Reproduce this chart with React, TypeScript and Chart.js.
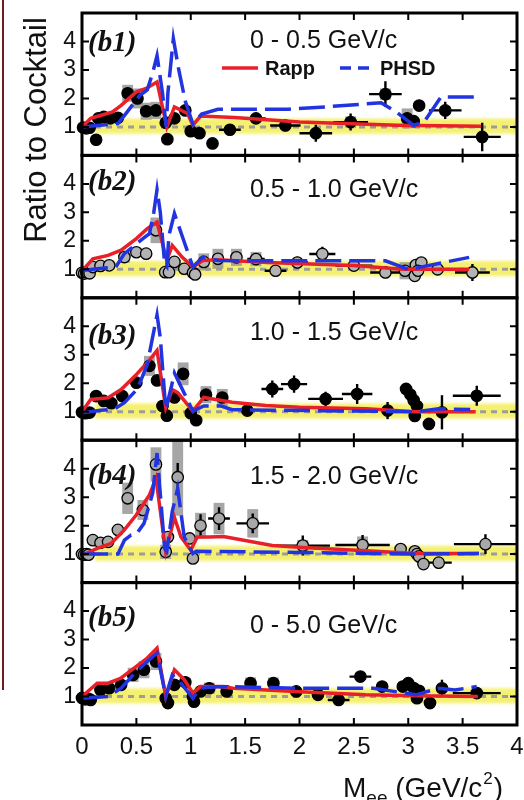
import React, { useEffect, useRef } from 'react';
import { Chart, registerables } from 'chart.js';

Chart.register(...registerables);

// ---------- data ----------
const xTicks = [0, 0.5, 1, 1.5, 2, 2.5, 3, 3.5, 4];
const yTicks = [1, 2, 3, 4];
const panelIds = ['(b1)', '(b2)', '(b3)', '(b4)', '(b5)'];
const panelTitles = ['0 - 0.5 GeV/c', '0.5 - 1.0 GeV/c', '1.0 - 1.5 GeV/c', '1.5 - 2.0 GeV/c', '0 - 5.0 GeV/c'];
const legendLabels = ['Rapp', 'PHSD'];
const bandRange = [0.76, 1.29];
const bandStart = 0.12;

// points: [mass, ratio, xErr, yErr, sysErr]
const b1Points = [
  [0.01, 0.98, 0, 0, 0], [0.04, 0.95, 0, 0, 0], [0.07, 0.97, 0, 0, 0], [0.13, 0.55, 0, 0.1, 0],
  [0.15, 1.3, 0, 0, 0], [0.2, 1.35, 0, 0, 0], [0.26, 1.3, 0, 0, 0], [0.33, 1.32, 0, 0, 0],
  [0.42, 2.18, 0, 0.15, 0.3], [0.51, 2.0, 0, 0.15, 0.35], [0.59, 1.55, 0, 0.2, 0.3], [0.68, 1.58, 0, 0.2, 0.3],
  [0.77, 1.15, 0, 0.15, 0], [0.785, 0.57, 0, 0.15, 0], [0.85, 1.3, 0, 0.1, 0], [0.95, 1.58, 0, 0.15, 0.15],
  [1.0, 0.85, 0, 0.1, 0.1], [1.08, 0.78, 0, 0.1, 0], [1.2, 0.42, 0, 0.15, 0], [1.36, 0.9, 0.1, 0.12, 0],
  [1.6, 1.3, 0.09, 0.15, 0], [1.87, 1.05, 0.14, 0.2, 0], [2.15, 0.78, 0.15, 0.3, 0], [2.47, 1.17, 0.16, 0.3, 0.2],
  [2.79, 2.15, 0.15, 0.45, 0.2], [2.99, 1.3, 0, 0.2, 0.35], [3.05, 1.2, 0, 0.15, 0], [3.1, 1.75, 0, 0.15, 0],
  [3.34, 1.58, 0.15, 0.3, 0.15], [3.68, 0.65, 0.17, 0.5, 0],
];
const b2Points = [
  [0.0, 0.88, 0, 0, 0], [0.02, 0.85, 0, 0, 0], [0.04, 0.9, 0, 0, 0], [0.07, 0.86, 0, 0, 0],
  [0.1, 1.08, 0, 0, 0], [0.17, 1.12, 0, 0, 0], [0.25, 1.14, 0, 0, 0], [0.39, 1.43, 0, 0, 0.2],
  [0.5, 1.6, 0, 0, 0.15], [0.59, 1.55, 0, 0, 0], [0.68, 2.37, 0, 0.1, 0.45], [0.765, 0.9, 0, 0, 0],
  [0.8, 0.9, 0, 0, 0], [0.85, 1.26, 0, 0, 0], [0.94, 1.02, 0, 0, 0], [1.02, 0.88, 0, 0, 0],
  [1.04, 0.82, 0, 0, 0], [1.12, 1.26, 0, 0, 0.3], [1.25, 1.37, 0, 0, 0.35], [1.42, 1.42, 0, 0, 0.3],
  [1.6, 1.36, 0.08, 0.1, 0.25], [1.78, 0.95, 0.1, 0.2, 0], [1.98, 1.24, 0.1, 0.2, 0], [2.21, 1.54, 0.12, 0.25, 0],
  [2.5, 1.13, 0.17, 0.2, 0], [2.79, 0.89, 0.14, 0.2, 0], [2.97, 0.95, 0, 0, 0.3], [3.06, 0.77, 0, 0, 0],
  [3.07, 1.15, 0, 0, 0], [3.12, 1.24, 0, 0, 0], [3.09, 0.95, 0, 0, 0], [3.27, 1.0, 0, 0, 0],
  [3.59, 0.89, 0.16, 0.3, 0],
];
const b3Points = [
  [0.0, 0.98, 0, 0, 0], [0.03, 0.95, 0, 0, 0], [0.07, 0.97, 0, 0, 0], [0.13, 1.55, 0, 0, 0],
  [0.2, 1.38, 0, 0, 0], [0.27, 1.3, 0, 0, 0], [0.37, 1.55, 0, 0, 0], [0.5, 2.02, 0, 0, 0],
  [0.62, 2.61, 0, 0.1, 0.35], [0.69, 2.1, 0, 0.1, 0], [0.74, 1.2, 0, 0, 0], [0.78, 0.86, 0, 0, 0],
  [0.85, 1.5, 0, 0, 0], [0.93, 2.33, 0, 0.15, 0.4], [1.0, 0.95, 0, 0, 0], [1.05, 0.7, 0, 0, 0],
  [1.14, 1.6, 0, 0, 0.3], [1.29, 1.5, 0, 0, 0.3], [1.52, 1.04, 0, 0.15, 0], [1.75, 1.8, 0.1, 0.3, 0],
  [1.95, 1.97, 0.12, 0.3, 0], [2.24, 1.45, 0.16, 0.25, 0], [2.53, 1.62, 0.14, 0.35, 0], [2.81, 1.04, 0, 0.3, 0],
  [2.98, 1.8, 0, 0, 0], [3.02, 1.6, 0, 0, 0], [3.05, 1.4, 0, 0, 0], [3.08, 1.2, 0, 0, 0],
  [3.06, 0.85, 0, 0, 0], [3.19, 0.57, 0, 0, 0], [3.31, 0.98, 0, 0.6, 0], [3.63, 1.56, 0.22, 0.35, 0],
];
const b4Points = [
  [0.0, 1.0, 0, 0, 0], [0.02, 0.98, 0, 0, 0], [0.04, 1.0, 0, 0, 0], [0.06, 0.98, 0, 0, 0],
  [0.1, 1.49, 0, 0, 0], [0.17, 1.4, 0, 0, 0], [0.24, 1.43, 0, 0, 0], [0.33, 1.85, 0, 0, 0],
  [0.42, 2.96, 0, 0.2, 0.55], [0.56, 2.55, 0, 0.2, 0.35], [0.68, 4.15, 0, 0.2, 0.6], [0.77, 1.08, 0, 0, 0.25],
  [0.79, 1.6, 0, 0.2, 0], [0.88, 3.7, 0, 0.5, 1.35], [0.99, 1.55, 0, 0.15, 0], [1.02, 0.85, 0, 0, 0],
  [1.09, 2.0, 0, 0.4, 0.45], [1.26, 2.25, 0.1, 0.4, 0.55], [1.57, 2.08, 0.15, 0.35, 0.5], [2.03, 1.3, 0.25, 0.35, 0.2],
  [2.58, 1.32, 0.25, 0.35, 0.3], [2.93, 1.18, 0, 0.2, 0], [3.06, 1.1, 0, 0, 0], [3.08, 1.0, 0, 0, 0],
  [3.1, 0.92, 0, 0, 0], [3.14, 0.65, 0, 0, 0], [3.28, 0.7, 0.12, 0.2, 0], [3.71, 1.35, 0.29, 0.35, 0],
];
const b5Points = [
  [0.0, 0.95, 0, 0, 0], [0.03, 0.9, 0, 0, 0], [0.06, 0.92, 0, 0, 0], [0.08, 0.88, 0, 0, 0],
  [0.17, 1.23, 0, 0, 0], [0.25, 1.29, 0, 0, 0], [0.36, 1.41, 0, 0, 0], [0.47, 1.76, 0, 0, 0.25],
  [0.57, 1.94, 0, 0, 0.3], [0.68, 2.23, 0, 0.1, 0.3], [0.77, 0.94, 0, 0, 0], [0.79, 0.77, 0, 0, 0],
  [0.85, 1.41, 0, 0, 0], [0.95, 1.5, 0, 0, 0.15], [1.02, 1.0, 0, 0, 0], [1.03, 0.82, 0, 0, 0],
  [1.09, 1.18, 0, 0, 0], [1.17, 1.29, 0, 0, 0.2], [1.33, 1.18, 0, 0, 0], [1.55, 1.47, 0, 0, 0.2],
  [1.76, 1.47, 0, 0, 0.2], [1.97, 1.18, 0, 0.1, 0], [2.17, 1.06, 0, 0.1, 0], [2.36, 0.88, 0.1, 0.15, 0],
  [2.56, 1.7, 0.1, 0.2, 0], [2.76, 1.35, 0, 0.15, 0], [2.95, 1.35, 0, 0, 0], [3.0, 1.47, 0, 0, 0],
  [3.05, 1.3, 0, 0, 0], [3.1, 1.2, 0, 0, 0], [3.08, 0.94, 0, 0, 0], [3.2, 0.77, 0, 0, 0],
  [3.31, 1.29, 0, 0.3, 0], [3.63, 1.12, 0.22, 0.2, 0],
];

const b1Rapp = [[0, 1.0], [0.08, 1.3], [0.17, 1.4], [0.28, 1.53], [0.36, 1.76], [0.5, 2.23], [0.59, 2.35], [0.69, 2.58], [0.78, 1.0], [0.85, 1.7], [0.97, 1.47], [1.02, 1.06], [1.09, 1.38], [1.4, 1.33], [2.0, 1.17], [2.9, 1.06], [3.67, 1.02]];
const b1Phsd = [[0, 1.0], [0.14, 1.05], [0.33, 1.12], [0.4, 1.45], [0.53, 2.1], [0.6, 2.3], [0.65, 2.9], [0.69, 3.5], [0.74, 2.2], [0.775, 1.0], [0.79, 2.2], [0.84, 4.1], [0.89, 3.0], [0.95, 1.9], [1.02, 1.1], [1.1, 1.45], [1.25, 1.62], [1.9, 1.62], [2.3, 1.72], [2.75, 1.85], [2.9, 1.5], [3.05, 1.05], [3.15, 1.2], [3.3, 2.05], [3.63, 2.05]];
const b2Rapp = [[0, 0.94], [0.1, 1.37], [0.24, 1.49], [0.36, 1.67], [0.5, 2.08], [0.6, 2.43], [0.69, 2.66], [0.78, 1.31], [0.83, 1.84], [0.92, 1.43], [1.02, 1.08], [1.11, 1.31], [1.25, 1.34], [1.7, 1.24], [2.5, 1.13], [2.95, 1.0], [3.56, 1.0]];
const b2Phsd = [[0, 0.96], [0.14, 1.02], [0.31, 1.08], [0.39, 1.55], [0.56, 2.08], [0.62, 2.25], [0.66, 3.0], [0.69, 3.8], [0.72, 3.0], [0.76, 1.2], [0.78, 1.1], [0.8, 2.2], [0.85, 2.96], [0.94, 1.96], [1.02, 1.08], [1.11, 1.43], [1.25, 1.31], [1.63, 1.3], [2.31, 1.3], [2.79, 1.3], [3.0, 1.0], [3.09, 1.06], [3.56, 1.42]];
const b3Rapp = [[0, 1.0], [0.08, 1.43], [0.24, 1.49], [0.36, 1.78], [0.5, 2.31], [0.6, 2.72], [0.69, 3.15], [0.77, 1.14], [0.83, 1.78], [0.88, 1.67], [1.02, 1.02], [1.12, 1.5], [1.38, 1.33], [1.69, 1.22], [2.0, 1.16], [2.61, 1.1], [3.07, 1.0], [3.62, 1.0]];
const b3Phsd = [[0, 0.96], [0.17, 1.05], [0.28, 1.08], [0.32, 1.15], [0.39, 1.32], [0.51, 1.8], [0.6, 2.66], [0.69, 4.4], [0.72, 3.6], [0.77, 1.08], [0.82, 1.85], [0.85, 2.36], [1.02, 1.02], [1.12, 1.2], [1.28, 1.2], [1.38, 1.07], [3.07, 1.0], [3.28, 1.1], [3.57, 1.08]];
const b4Rapp = [[0, 0.96], [0.14, 1.2], [0.27, 1.38], [0.39, 1.85], [0.5, 2.38], [0.62, 3.08], [0.68, 3.66], [0.77, 1.08], [0.85, 2.29], [0.91, 1.6], [1.0, 1.14], [1.06, 1.6], [1.18, 1.6], [1.3, 1.62], [1.75, 1.3], [2.03, 1.23], [2.61, 1.12], [3.07, 1.02], [3.65, 1.02]];
const b4Phsd = [[0, 1.0], [0.33, 1.0], [0.39, 1.49], [0.45, 1.67], [0.5, 1.7], [0.57, 2.08], [0.65, 3.14], [0.69, 4.55], [0.76, 1.2], [0.78, 1.1], [0.83, 2.5], [0.88, 3.3], [0.94, 1.6], [1.02, 1.02], [1.05, 1.1], [2.0, 1.06], [3.05, 1.0], [3.65, 1.02]];
const b5Rapp = [[0, 1.0], [0.14, 1.47], [0.24, 1.47], [0.36, 1.65], [0.5, 2.06], [0.6, 2.35], [0.69, 2.7], [0.77, 1.0], [0.85, 1.94], [0.94, 1.59], [1.02, 1.12], [1.09, 1.35], [1.25, 1.35], [1.39, 1.29], [2.0, 1.17], [2.61, 1.06], [3.07, 1.03], [3.64, 1.0]];
const b5Phsd = [[0, 0.94], [0.24, 1.0], [0.36, 1.29], [0.5, 1.88], [0.6, 2.23], [0.69, 2.53], [0.77, 1.0], [0.83, 1.76], [0.91, 1.47], [1.02, 0.94], [1.08, 1.29], [1.28, 1.35], [2.0, 1.29], [2.68, 1.29], [3.07, 1.06], [3.28, 1.29], [3.43, 1.23], [3.63, 1.35]];

const panelPoints = [b1Points, b2Points, b3Points, b4Points, b5Points];
const panelRapp = [b1Rapp, b2Rapp, b3Rapp, b4Rapp, b5Rapp];
const panelPhsd = [b1Phsd, b2Phsd, b3Phsd, b4Phsd, b5Phsd];

// ---------- styles ----------
const SANS = '"Liberation Sans", Arial, Helvetica, sans-serif';
const SERIF = '"Liberation Serif", "Times New Roman", serif';
const RED = '#e8202a';
const BLUE = '#2233e0';
const markerFill = ['#000000', '#b3b3b3', '#000000', '#a8a8a8', '#000000'];
const idOffset = [31, 27, 39, 36.5, 36];
const titleOffset = [28, 34.6, 35.6, 36.5, 44];
const SYS_HALF = 0.05;

const panelPlugin = {
  id: 'panelDecor',
  beforeDatasetsDraw(chart: any) {
    const ctx = chart.ctx;
    const xs = chart.scales.x;
    panelPoints.forEach((pts, i) => {
      const ys = chart.scales['y' + (i + 1)];
      ctx.save();
      ctx.beginPath();
      ctx.rect(xs.left, ys.top, xs.right - xs.left, ys.bottom - ys.top);
      ctx.clip();
      // yellow normalisation band
      const bx = xs.getPixelForValue(bandStart);
      const bt = ys.getPixelForValue(bandRange[1]);
      const bb = ys.getPixelForValue(bandRange[0]);
      ctx.filter = 'blur(1.5px)';
      ctx.fillStyle = 'rgb(245,240,112)';
      ctx.fillRect(bx, bt, xs.right - bx + 10, bb - bt);
      ctx.filter = 'none';
      // dotted unity line
      ctx.strokeStyle = '#9c9c9c';
      ctx.lineWidth = 3;
      ctx.setLineDash([6, 5]);
      ctx.beginPath();
      const y1 = ys.getPixelForValue(1);
      ctx.moveTo(bx, y1);
      ctx.lineTo(xs.right, y1);
      ctx.stroke();
      ctx.setLineDash([]);
      ctx.restore();

      // systematic boxes
      ctx.save();
      ctx.fillStyle = 'rgba(150,150,150,0.85)';
      pts.forEach(([x, y, , , sys]) => {
        if (!sys) return;
        const l = xs.getPixelForValue(x - SYS_HALF);
        const r = xs.getPixelForValue(x + SYS_HALF);
        const t = ys.getPixelForValue(Math.min(y + sys, 5));
        const b = ys.getPixelForValue(y - sys);
        ctx.fillRect(l, t, r - l, b - t);
      });
      // error bars
      ctx.strokeStyle = '#000';
      ctx.lineWidth = 2.4;
      pts.forEach(([x, y, dx, dy]) => {
        const px = xs.getPixelForValue(x);
        const py = ys.getPixelForValue(y);
        ctx.beginPath();
        if (dx) {
          ctx.moveTo(xs.getPixelForValue(x - dx), py);
          ctx.lineTo(xs.getPixelForValue(x + dx), py);
        }
        if (dy) {
          ctx.moveTo(px, ys.getPixelForValue(y - dy));
          ctx.lineTo(px, ys.getPixelForValue(y + dy));
        }
        ctx.stroke();
      });
      ctx.restore();
    });
  },
  afterDraw(chart: any) {
    const ctx = chart.ctx;
    const xs = chart.scales.x;
    ctx.save();
    panelIds.forEach((label, i) => {
      const ys = chart.scales['y' + (i + 1)];
      const top = ys.top;
      const bottom = ys.bottom;
      // ticks
      ctx.strokeStyle = '#000';
      ctx.lineWidth = 2;
      ctx.beginPath();
      xTicks.forEach((v) => {
        const px = xs.getPixelForValue(v);
        ctx.moveTo(px, top);
        ctx.lineTo(px, top + 7);
        ctx.moveTo(px, bottom);
        ctx.lineTo(px, bottom - 7);
      });
      yTicks.forEach((v) => {
        const py = ys.getPixelForValue(v);
        ctx.moveTo(xs.left, py);
        ctx.lineTo(xs.left + 7, py);
        ctx.moveTo(xs.right, py);
        ctx.lineTo(xs.right - 7, py);
      });
      ctx.stroke();
      // frame
      ctx.lineWidth = 3;
      ctx.strokeRect(xs.left, top, xs.right - xs.left, bottom - top);
      // panel id
      ctx.fillStyle = '#111';
      ctx.font = 'italic bold 29px ' + SERIF;
      ctx.textAlign = 'left';
      ctx.textBaseline = 'middle';
      ctx.fillText(label, xs.left + 6, top + idOffset[i]);
      // panel title
      ctx.font = '25px ' + SANS;
      ctx.fillText(panelTitles[i], 250, top + titleOffset[i]);
    });

    // legend in first panel
    const ly = chart.scales.y1.top + 55;
    ctx.lineWidth = 3.5;
    ctx.strokeStyle = RED;
    ctx.beginPath();
    ctx.moveTo(222, ly);
    ctx.lineTo(258, ly);
    ctx.stroke();
    ctx.strokeStyle = BLUE;
    ctx.setLineDash([11, 7]);
    ctx.beginPath();
    ctx.moveTo(340, ly);
    ctx.lineTo(370, ly);
    ctx.stroke();
    ctx.setLineDash([]);
    ctx.fillStyle = '#111';
    ctx.font = 'bold 20px ' + SANS;
    ctx.textBaseline = 'middle';
    ctx.fillText(legendLabels[0], 265, ly + 1);
    ctx.fillText(legendLabels[1], 380, ly + 1);

    // y axis title
    ctx.save();
    ctx.translate(46, 130);
    ctx.rotate(-Math.PI / 2);
    ctx.font = '31px ' + SANS;
    ctx.textAlign = 'center';
    ctx.textBaseline = 'alphabetic';
    ctx.fillText('Ratio to Cocktail', 0, 0);
    ctx.restore();

    // x axis title: M_ee (GeV/c^2)
    let tx = 343;
    const ty = 797;
    ctx.textAlign = 'left';
    ctx.textBaseline = 'alphabetic';
    ctx.font = '28px ' + SANS;
    ctx.fillText('M', tx, ty);
    tx += ctx.measureText('M').width;
    ctx.font = '19px ' + SANS;
    ctx.fillText('ee', tx, ty + 7);
    tx += ctx.measureText('ee').width;
    ctx.font = '28px ' + SANS;
    ctx.fillText(' (GeV/c', tx, ty);
    tx += ctx.measureText(' (GeV/c').width;
    ctx.font = '17px ' + SANS;
    ctx.fillText('2', tx + 1, ty - 13);
    tx += ctx.measureText('2').width + 2;
    ctx.font = '28px ' + SANS;
    ctx.fillText(')', tx, ty);

    // cropped neighbour frame at left edge
    ctx.strokeStyle = '#6a1c1c';
    ctx.lineWidth = 2;
    ctx.beginPath();
    ctx.moveTo(3, 0);
    ctx.lineTo(3, 690);
    ctx.stroke();
    ctx.restore();
  },
};

export default function App() {
  const canvasRef = useRef<HTMLCanvasElement | null>(null);

  useEffect(() => {
    const canvas = canvasRef.current;
    if (!canvas) return;

    const datasets: any[] = [];
    panelIds.forEach((_, i) => {
      const yAxisID = 'y' + (i + 1);
      datasets.push({
        label: 'PHSD',
        data: panelPhsd[i].map(([x, y]) => ({ x, y })),
        yAxisID,
        xAxisID: 'x',
        showLine: true,
        borderColor: BLUE,
        borderWidth: 3.5,
        borderDash: [26, 8],
        pointRadius: 0,
        tension: 0,
        order: 0,
        clip: false,
      });
      datasets.push({
        label: 'Rapp',
        data: panelRapp[i].map(([x, y]) => ({ x, y })),
        yAxisID,
        xAxisID: 'x',
        showLine: true,
        borderColor: RED,
        borderWidth: 3.5,
        pointRadius: 0,
        tension: 0,
        order: 1,
        clip: false,
      });
      datasets.push({
        label: 'data',
        data: panelPoints[i].map(([x, y]) => ({ x, y })),
        yAxisID,
        xAxisID: 'x',
        showLine: false,
        pointRadius: 5.7,
        pointBackgroundColor: markerFill[i],
        pointBorderColor: '#000',
        pointBorderWidth: 1.3,
        order: 2,
        clip: false,
      });
    });

    const scales: any = {
      x: {
        type: 'linear',
        position: 'bottom',
        min: 0,
        max: 4,
        grid: { display: false, drawTicks: false },
        border: { display: false },
        afterBuildTicks: (s: any) => {
          s.ticks = xTicks.map((v) => ({ value: v }));
        },
        afterFit: (s: any) => {
          s.height = 75;
          s.paddingLeft = 0;
          s.paddingRight = 0;
        },
        ticks: {
          autoSkip: false,
          maxRotation: 0,
          padding: 8,
          color: '#111',
          font: { family: SANS, size: 24 },
          callback: (v: any) => String(v),
        },
      },
    };
    panelIds.forEach((_, i) => {
      scales['y' + (i + 1)] = {
        type: 'linear',
        position: 'left',
        stack: 'panels',
        stackWeight: 1,
        weight: 5 - i,
        min: 0,
        max: 5,
        grid: { display: false, drawTicks: false },
        border: { display: false },
        afterBuildTicks: (s: any) => {
          s.ticks = yTicks.map((v) => ({ value: v }));
        },
        afterFit: (s: any) => {
          s.width = 82;
          s.paddingTop = 0;
          s.paddingBottom = 0;
        },
        ticks: {
          autoSkip: false,
          padding: 6,
          color: '#111',
          font: { family: SANS, size: 23 },
          callback: (v: any) => String(v),
        },
      };
    });

    const chart = new Chart(canvas, {
      type: 'scatter',
      data: { datasets },
      options: {
        animation: false,
        responsive: false,
        devicePixelRatio: 1,
        events: [],
        layout: { padding: { top: 13, right: 5, bottom: 0, left: 0 } },
        plugins: { legend: { display: false }, tooltip: { enabled: false } },
        scales,
      },
      plugins: [panelPlugin],
    } as any);

    return () => chart.destroy();
  }, []);

  return (
    <div style={{ position: 'absolute', left: 0, top: 0, width: 524, height: 800, background: '#fff' }}>
      <canvas ref={canvasRef} width={524} height={800} style={{ display: 'block' }} />
    </div>
  );
}
